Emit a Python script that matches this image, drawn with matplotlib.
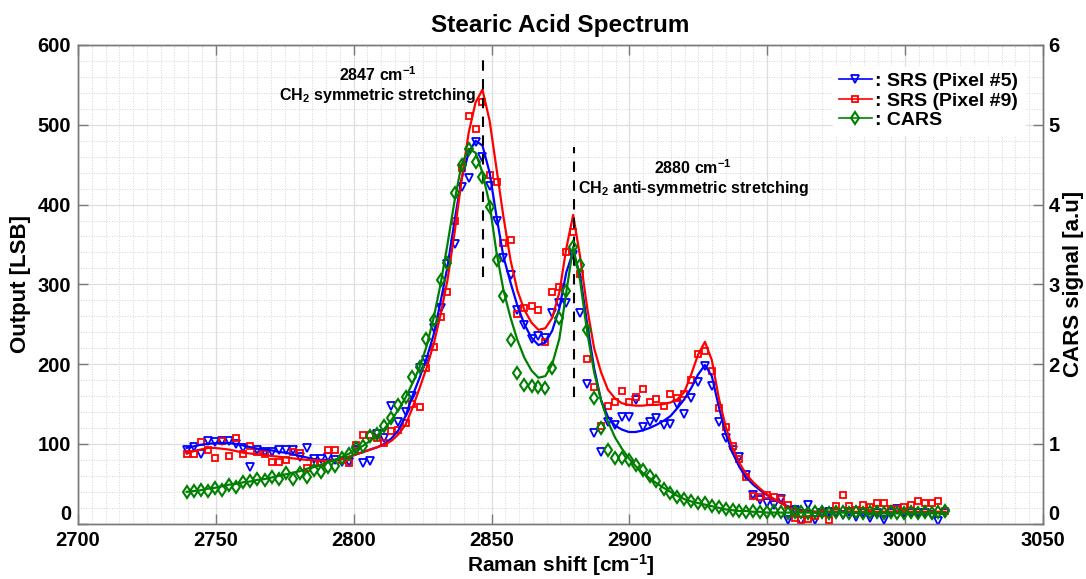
import matplotlib
matplotlib.use("Agg")
import matplotlib.pyplot as plt
from matplotlib.lines import Line2D
from matplotlib.ticker import MultipleLocator

# Raman shift axis of the scan [cm-1]
raman_shift = [
    2739.4, 2742.0, 2744.5, 2747.1, 2749.7, 2752.3, 2754.8, 2757.4, 2760.0, 2762.5,
    2765.1, 2767.7, 2770.2, 2772.8, 2775.4, 2777.9, 2780.5, 2783.0, 2785.6, 2788.2,
    2790.7, 2793.3, 2795.8, 2798.4, 2800.9, 2803.5, 2806.0, 2808.6, 2811.1, 2813.7,
    2816.2, 2818.8, 2821.3, 2823.9, 2826.4, 2829.0, 2831.5, 2834.0, 2836.6, 2839.1,
    2841.7, 2844.2, 2846.7, 2849.3, 2851.8, 2854.3, 2856.9, 2859.4, 2861.9, 2864.5,
    2867.0, 2869.5, 2872.0, 2874.6, 2877.1, 2879.6, 2882.1, 2884.7, 2887.2, 2889.7,
    2892.2, 2894.8, 2897.3, 2899.8, 2902.3, 2904.8, 2907.3, 2909.8, 2912.4, 2914.9,
    2917.4, 2919.9, 2922.4, 2924.9, 2927.4, 2929.9, 2932.4, 2934.9, 2937.4, 2939.9,
    2942.4, 2944.9, 2947.4, 2949.9, 2952.4, 2954.9, 2957.4, 2959.9, 2962.4, 2964.9,
    2967.4, 2969.9, 2972.4, 2974.9, 2977.4, 2979.8, 2982.3, 2984.8, 2987.3, 2989.8,
    2992.3, 2994.8, 2997.2, 2999.7, 3002.2, 3004.7, 3007.1, 3009.6, 3012.1, 3014.6,
]

# SRS output, pixel #5 [LSB]
srs_px5 = [
    93, 96, 88, 104, 102, 104, 104, 100, 95, 71,
    93, 90, 90, 92, 92, 92, 84, 95, 81, 81,
    84, 80, 77, 78, 92, 76, 79, 112, 107, 147,
    128, 140, 160, 195, 205, 245, 270, 325, 350, 422,
    433, 478, 460, 423, 380, 333, 312, 268, 249, 231,
    235, 233, 264, 277, 277, 337, 264, 175, 114, 90,
    128, 124, 134, 134, 155, 121, 128, 133, 124, 125,
    150, 138, 157, 178, 198, 173, 127, 108, 92, 84,
    61, 36, 30, 26, 23, 31, 5, 17, 3, 23,
    5, 13, 15, 13, 11, 15, 9, 13, 7, 14,
    5, 13, 19, 13, 14, 13, 13, 11, 3, 13,
]
srs_px5_fit = [
    95, 97, 99, 100, 101, 101, 101, 100, 98, 96,
    94, 93, 92, 90, 89, 87, 85, 83, 81, 80,
    80, 80, 81, 84, 87, 90, 93, 96, 100, 107,
    117, 135, 160, 183, 207, 237, 278, 322, 380, 432,
    465, 480, 474, 440, 385, 335, 302, 273, 250, 233,
    224, 227, 242, 270, 315, 341, 312, 250, 195, 155,
    134, 123, 118, 115, 115, 117, 120, 124, 129, 135,
    145, 156, 170, 187, 199, 185, 147, 113, 89, 71,
    58, 49, 42, 36, 31, 26, 22, 19, 17, 16,
    15, 15, 15, 15, 15, 15, 14, 14, 14, 14,
    14, 14, 14, 14, 14, 14, 14, 14, 14, 14,
]

# SRS output, pixel #9 [LSB]
srs_px9 = [
    87, 87, 103, 93, 82, 104, 85, 107, 87, 97,
    90, 88, 78, 78, 80, 90, 89, 70, 76, 76,
    92, 92, 80, 76, 99, 111, 111, 107, 101, 116,
    117, 126, 150, 146, 195, 222, 259, 291, 379, 446,
    511, 495, 529, 437, 428, 352, 355, 263, 271, 273,
    268, 228, 291, 297, 340, 366, 313, 207, 172, 122,
    148, 153, 167, 153, 159, 169, 152, 156, 147, 163,
    157, 163, 180, 213, 217, 191, 145, 121, 97, 81,
    59, 35, 34, 36, 34, 31, 23, 7, 5, 6,
    10, 13, 5, 22, 36, 22, 17, 24, 21, 26,
    26, 18, 18, 21, 23, 28, 26, 26, 28, 16,
]
srs_px9_fit = [
    88, 91, 93, 95, 95, 94, 93, 91, 89, 88,
    87, 86, 85, 84, 83, 82, 81, 80, 80, 79,
    79, 80, 81, 84, 87, 90, 93, 96, 99, 104,
    112, 124, 145, 170, 195, 225, 262, 305, 365, 430,
    490, 528, 544, 505, 445, 385, 330, 292, 268, 252,
    243, 245, 258, 290, 345, 387, 335, 270, 220, 190,
    168, 157, 151, 149, 148, 148, 149, 149, 150, 152,
    156, 165, 187, 212, 228, 205, 158, 122, 95, 76,
    62, 52, 44, 37, 31, 26, 21, 18, 16, 15,
    15, 15, 15, 15, 15, 15, 15, 15, 15, 15,
    15, 15, 15, 15, 15, 15, 15, 15, 15, 15,
]

# CARS signal [a.u]
cars = [
    0.40, 0.41, 0.42, 0.41, 0.45, 0.42, 0.49, 0.46, 0.52, 0.53,
    0.56, 0.55, 0.58, 0.56, 0.64, 0.56, 0.64, 0.59, 0.68, 0.65,
    0.71, 0.72, 0.82, 0.88, 0.95, 0.98, 1.10, 1.12, 1.23, 1.32,
    1.49, 1.59, 1.84, 1.97, 2.32, 2.55, 3.06, 3.27, 4.14, 4.50,
    4.70, 4.53, 4.35, 3.97, 3.31, 2.86, 2.30, 1.89, 1.74, 1.73,
    1.72, 1.70, 1.95, 2.58, 2.92, 3.47, 3.24, 2.43, 1.57, 1.20,
    0.93, 0.82, 0.82, 0.80, 0.74, 0.68, 0.60, 0.53, 0.43, 0.38,
    0.34, 0.31, 0.28, 0.26, 0.26, 0.22, 0.21, 0.18, 0.17, 0.16,
    0.15, 0.16, 0.15, 0.15, 0.16, 0.15, 0.14, 0.15, 0.15, 0.14,
    0.15, 0.15, 0.14, 0.15, 0.15, 0.14, 0.15, 0.14, 0.15, 0.15,
    0.14, 0.15, 0.14, 0.14, 0.15, 0.14, 0.15, 0.14, 0.15, 0.16,
]
cars_fit = [
    0.40, 0.41, 0.42, 0.44, 0.45, 0.47, 0.49, 0.50, 0.52, 0.53,
    0.55, 0.56, 0.58, 0.60, 0.62, 0.64, 0.66, 0.69, 0.71, 0.74,
    0.77, 0.80, 0.84, 0.88, 0.93, 0.98, 1.04, 1.11, 1.19, 1.30,
    1.43, 1.58, 1.76, 1.96, 2.22, 2.58, 3.00, 3.50, 4.05, 4.50,
    4.70, 4.65, 4.40, 4.00, 3.40, 2.93, 2.58, 2.30, 2.08, 1.92,
    1.83, 1.85, 2.00, 2.32, 2.90, 3.47, 3.05, 2.40, 1.90, 1.55,
    1.28, 1.08, 0.94, 0.82, 0.72, 0.64, 0.57, 0.51, 0.45, 0.40,
    0.35, 0.31, 0.28, 0.26, 0.24, 0.22, 0.20, 0.18, 0.17, 0.16,
    0.16, 0.15, 0.15, 0.14, 0.14, 0.14, 0.14, 0.14, 0.14, 0.14,
    0.14, 0.14, 0.14, 0.14, 0.14, 0.14, 0.14, 0.14, 0.13, 0.13,
    0.13, 0.13, 0.13, 0.13, 0.13, 0.13, 0.13, 0.13, 0.13, 0.13,
]

# peak markers: position, dashed line extent, label lines
peak_pos = [2847, 2880]
peak_line_lo = [309, 159]
peak_line_hi = [588, 472]
peak_label_x = [2808.8, 2923.1]
peak_label_y = [563, 446]
peak_wavenumber = ["2847 cm$^{-1}$", "2880 cm$^{-1}$"]
peak_mode = ["CH$_2$ symmetric stretching", "CH$_2$ anti-symmetric stretching"]

plt.rcParams["font.family"] = ["Liberation Sans", "DejaVu Sans"]
plt.rcParams["font.weight"] = "bold"
plt.rcParams["mathtext.fontset"] = "custom"
plt.rcParams["mathtext.rm"] = "Liberation Sans:bold"
plt.rcParams["mathtext.it"] = "Liberation Sans:bold"
plt.rcParams["mathtext.bf"] = "Liberation Sans:bold"
plt.rcParams["mathtext.default"] = "rm"

BLUE = "#0000ff"
RED = "#ff0000"
GREEN = "#008000"
FRAME = "#7a7a7a"


def main():
    fig = plt.figure(figsize=(10.86, 5.79), dpi=100)
    ax = fig.add_axes([0.0718, 0.0954, 0.8886, 0.8269])
    ax2 = ax.twinx()

    # SRS data + fits (left axis)
    ax.plot(raman_shift, srs_px5, "v", mfc="none", mec=BLUE, ms=6, mew=1.3, zorder=3)
    ax.plot(raman_shift, srs_px5_fit, "-", color=BLUE, lw=1.6, zorder=4)
    ax.plot(raman_shift, srs_px9, "s", mfc="none", mec=RED, ms=4.5, mew=1.3, zorder=3)
    ax.plot(raman_shift, srs_px9_fit, "-", color=RED, lw=1.6, zorder=4)

    # CARS data + fit (right axis)
    ax2.plot(raman_shift, cars, "d", mfc="none", mec=GREEN, ms=6, mew=1.5, zorder=3)
    ax2.plot(raman_shift, cars_fit, "-", color=GREEN, lw=1.6, zorder=4)

    ax.vlines(peak_pos, peak_line_lo, peak_line_hi, colors="k", linestyles=(0, (5, 4)),
              lw=1.5, zorder=5)
    for x, y, wn, mode in zip(peak_label_x, peak_label_y, peak_wavenumber, peak_mode):
        ax.text(x, y, wn, ha="center", va="center", fontsize=11.5, fontweight="bold")
        ax.text(x, y - 26, mode, ha="center", va="center", fontsize=11.5, fontweight="bold")

    ax.set_xlim(2700, 3050)
    ax.set_ylim(0, 600)
    ax2.set_ylim(0, 6)
    ax.xaxis.set_major_locator(MultipleLocator(50))
    ax.xaxis.set_minor_locator(MultipleLocator(5))
    ax.set_yticks(range(0, 601, 100))
    ax.yaxis.set_minor_locator(MultipleLocator(20))
    ax2.set_yticks(range(7))

    ax.grid(which="major", color="#dedede", lw=0.9, ls="-")
    ax.grid(which="minor", color="#d4d4d4", lw=0.7, ls=":")
    ax.set_axisbelow(True)

    ax.tick_params(which="minor", length=0)
    ax.tick_params(which="major", direction="in", length=7, width=1, color=FRAME,
                   top=True, labelsize=14.5, pad=5)
    ax2.tick_params(which="major", direction="in", length=7, width=1, color=FRAME,
                    labelsize=14.5, pad=4)
    for a in (ax, ax2):
        for s in a.spines.values():
            s.set_color(FRAME)
            s.set_linewidth(1.0)

    # "0" labels sit above the bottom edge
    ax.yaxis.get_major_ticks()[0].label1.set_verticalalignment("bottom")
    ax2.yaxis.get_major_ticks()[0].label2.set_verticalalignment("bottom")

    ax.set_title("Stearic Acid Spectrum", fontsize=17.5, fontweight="bold", pad=9)
    ax.set_xlabel("Raman shift [cm$^{-1}$]", fontsize=15, fontweight="bold", labelpad=2)
    ax.set_ylabel("Output [LSB]", fontsize=16, fontweight="bold", labelpad=5)
    ax2.set_ylabel("CARS signal [a.u]", fontsize=16, fontweight="bold", labelpad=2)

    handles = [
        Line2D([], [], color=BLUE, lw=1.2, marker="v", mfc="none", mec=BLUE, ms=6, mew=1.3),
        Line2D([], [], color=RED, lw=1.2, marker="s", mfc="none", mec=RED, ms=4.5, mew=1.3),
        Line2D([], [], color=GREEN, lw=1.2, marker="d", mfc="none", mec=GREEN, ms=6, mew=1.5),
    ]
    labels = [": SRS (Pixel #5)", ": SRS (Pixel #9)", ": CARS"]
    leg = ax2.legend(handles, labels, loc="upper right", bbox_to_anchor=(0.99, 0.975),
                     frameon=True, fancybox=False, edgecolor="white", framealpha=1,
                     fontsize=14, numpoints=1, handlelength=1.7, handletextpad=0.15,
                     labelspacing=0.1, borderpad=0.3)
    leg.set_zorder(10)

    fig.savefig("out.png", dpi=100)


if __name__ == "__main__":
    main()
